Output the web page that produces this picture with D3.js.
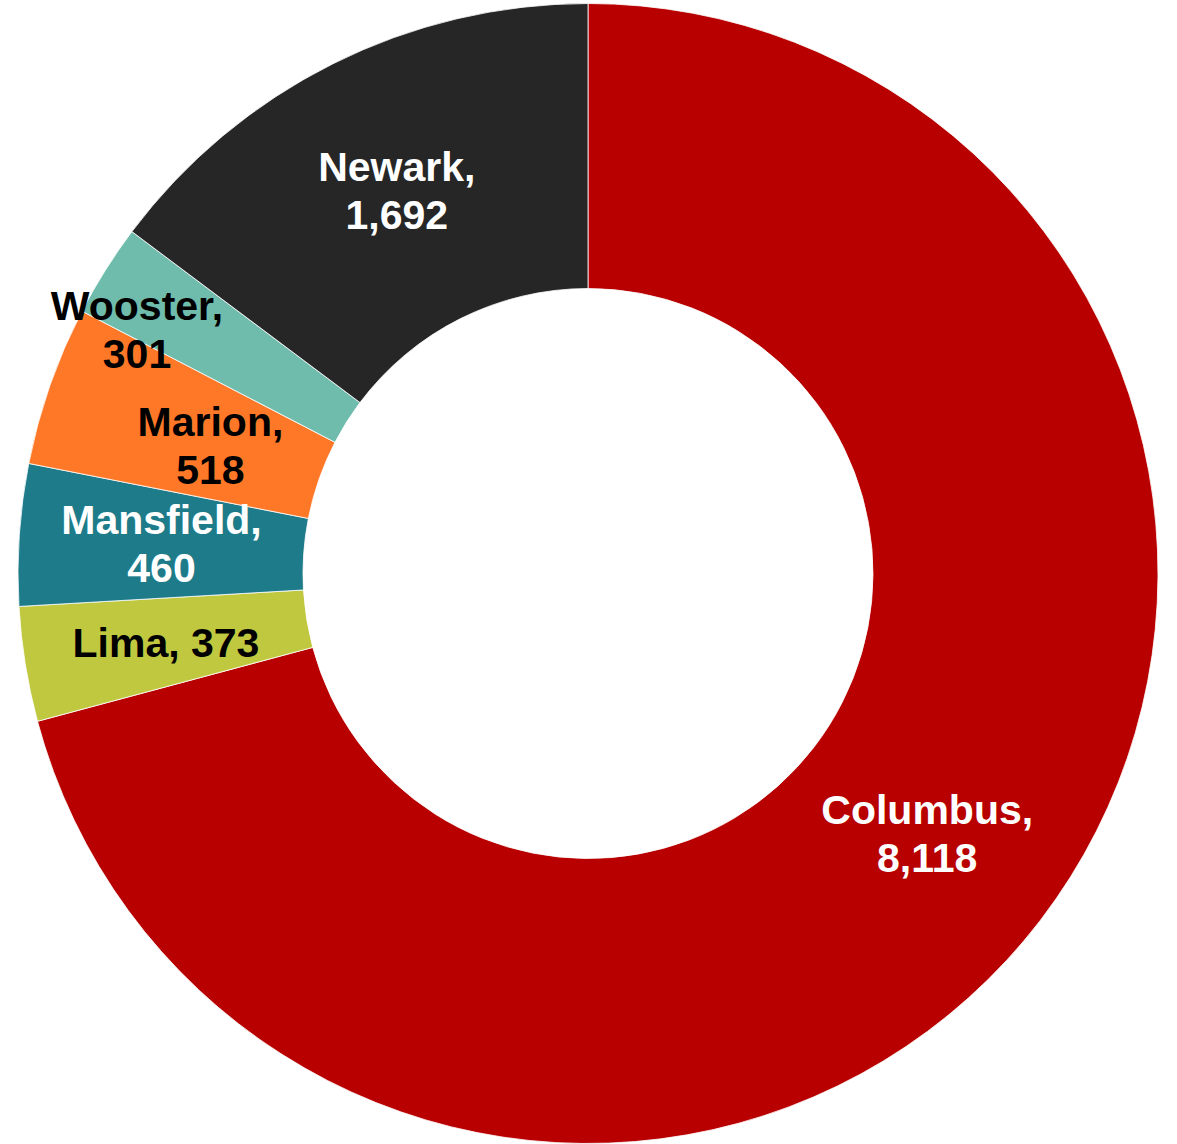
<!DOCTYPE html>
<html>
<head>
<meta charset="utf-8">
<script src="https://cdn.jsdelivr.net/npm/d3@7"></script>
<style>
  html, body { margin: 0; padding: 0; background: #fff; }
  svg text { font-family: "Liberation Sans", Arial, sans-serif; font-weight: bold; }
</style>
</head>
<body>
<svg id="chart" width="1177" height="1144"></svg>
<script>
const cities = ["Columbus", "Lima", "Mansfield", "Marion", "Wooster", "Newark"];
const counts = [8118, 373, 460, 518, 301, 1692];
const colors = ["#b80000", "#c0c840", "#1e7b8a", "#ff7828", "#6fbcac", "#262626"];
const labelColors = ["#fff", "#000", "#fff", "#000", "#000", "#fff"];
const singleLine = ["Lima"];

// Excel moved a couple of labels off their centroid
const nudges = { Marion: [26, 14], Wooster: [-89, -16] };

const width = 1177;
const height = 1144;
const cx = 588;
const cy = 573.5;
const outer = 570;
const inner = 285;

const data = cities.map((name, i) => ({ name, value: counts[i], color: colors[i], text: labelColors[i] }));

const svg = d3.select("#chart");
const g = svg.append("g").attr("transform", `translate(${cx},${cy})`);

const pie = d3.pie().value((d) => d.value).sort(null);
const arc = d3.arc().innerRadius(inner).outerRadius(outer);
const mid = d3.arc().innerRadius((inner + outer) / 2).outerRadius((inner + outer) / 2);

const arcs = pie(data);

g.selectAll("path")
  .data(arcs)
  .join("path")
  .attr("d", arc)
  .attr("fill", (d) => d.data.color)
  .attr("stroke", "#fff")
  .attr("stroke-width", 0.8);

const fmt = d3.format(",");

const labels = g.selectAll("text")
  .data(arcs)
  .join("text")
  .attr("text-anchor", "middle")
  .attr("font-size", 41)
  .attr("fill", (d) => d.data.text)
  .attr("transform", (d) => {
    const [x, y] = mid.centroid(d);
    const [dx, dy] = nudges[d.data.name] || [0, 0];
    return `translate(${x + dx},${y + dy})`;
  });

labels.each(function (d) {
  const t = d3.select(this);
  if (singleLine.includes(d.data.name)) {
    t.append("tspan").attr("x", 0).attr("y", 15).text(`${d.data.name}, ${fmt(d.data.value)}`);
  } else {
    t.append("tspan").attr("x", 0).attr("y", -10).text(`${d.data.name},`);
    t.append("tspan").attr("x", 0).attr("y", 38).text(fmt(d.data.value));
  }
});
</script>
</body>
</html>
